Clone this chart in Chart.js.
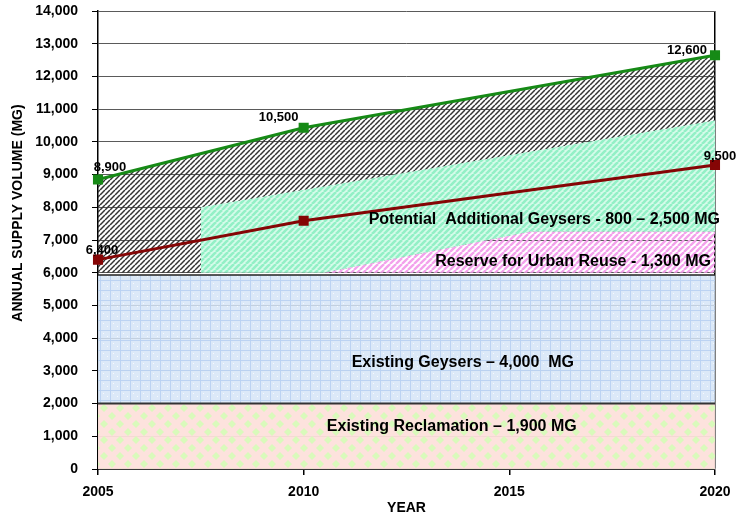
<!DOCTYPE html>
<html>
<head>
<meta charset="utf-8">
<script src="https://cdn.jsdelivr.net/npm/chart.js@4.4.0/dist/chart.umd.min.js"></script>
<style>
  html, body { margin: 0; padding: 0; background: #fff; }
  #wrap { width: 739px; height: 519px; position: relative; }
</style>
</head>
<body>
<div id="wrap"><canvas id="chart"></canvas></div>
<script>
// totals (points), labels as printed
const years = [2005, 2010, 2020];
const supplyTotal = [8850, 10430, 12650];
const supplyLabels = ['8,900', '10,500', '12,600'];
const urbanDemand = [6400, 7590, 9290];
const demandLabels = ['6,400', '', '9,500'];

// stacked areas
const baseYears = [2005, 2020];
const reclamationTop = [2000, 2000];
const geysersTop = [5930, 5930];
const reserveYears = [2005, 2010.5, 2015.5, 2020];
const reserveTop = [6000, 6000, 7250, 7250];
const reserveBase = 6000;
const potentialYears = [2007.5, 2020];
const potentialTop = [8000, 10650];

const xTicks = [2005, 2010, 2015, 2020];
const yMax = 14000;
const yStep = 1000;

const areaText = [
  'Potential  Additional Geysers - 800 \u2013 2,500 MG',
  'Reserve for Urban Reuse - 1,300 MG',
  'Existing Geysers \u2013 4,000  MG',
  'Existing Reclamation \u2013 1,900 MG'
];

const FONT = '"Liberation Sans", Arial, sans-serif';
const pts = (xs, ys) => xs.map((x, i) => ({ x, y: ys[i] }));

function tile(size, draw) {
  const c = document.createElement('canvas');
  c.width = c.height = size;
  const g = c.getContext('2d');
  draw(g, size);
  return g.createPattern(c, 'repeat');
}

// upward diagonal hatch
function stripes(size, width, color, bg) {
  return tile(size, (g, s) => {
    if (bg) { g.fillStyle = bg; g.fillRect(0, 0, s, s); }
    g.strokeStyle = color;
    g.lineWidth = width;
    for (let k = -1; k <= 1; k++) {
      g.beginPath();
      g.moveTo(k * s, s);
      g.lineTo(k * s + s, 0);
      g.stroke();
    }
  });
}

const blackHatch = stripes(5, 1.5, '#333', null);
const greenHatch = stripes(6, 2.6, '#93f0c6', '#d6fbea');
const pinkHatch = stripes(6, 2.4, '#f3a2ec', null);

const blueGrid = tile(10, (g, s) => {
  g.fillStyle = 'rgba(214,229,247,0.85)';
  g.fillRect(0, 0, s, s);
  g.fillStyle = 'rgba(185,210,242,0.9)';
  g.fillRect(0, 0, s, 1);
  g.fillRect(0, 0, 1, s);
  g.fillStyle = 'rgba(255,255,255,0.8)';
  g.fillRect(3, 3, 1, 1);
  g.fillRect(7, 6, 1, 1);
});

const diamonds = tile(16, (g, s) => {
  g.fillStyle = 'rgba(253,224,219,0.95)';
  g.fillRect(0, 0, s, s);
  g.fillStyle = '#d9fabb';
  const d = (cx, cy, r) => {
    g.beginPath();
    g.moveTo(cx, cy - r); g.lineTo(cx + r, cy); g.lineTo(cx, cy + r); g.lineTo(cx - r, cy);
    g.closePath(); g.fill();
  };
  [[0, 0], [s, 0], [0, s], [s, s], [s / 2, s / 2]].forEach(([cx, cy]) => d(cx, cy, 4));
});

const textPlugin = {
  id: 'chartText',
  afterDatasetsDraw(chart) {
    const { ctx, scales: { x, y } } = chart;
    ctx.save();
    ctx.fillStyle = '#000';
    ctx.textAlign = 'center';
    ctx.textBaseline = 'middle';

    // area captions, placed in data units
    const at = [[2015.85, 7624], [2016.55, 6338], [2013.87, 3246], [2013.6, 1286]];
    ctx.font = 'bold 16px ' + FONT;
    areaText.forEach((t, i) => ctx.fillText(t, x.getPixelForValue(at[i][0]), y.getPixelForValue(at[i][1])));

    // point value labels
    ctx.font = 'bold 13px ' + FONT;
    const supplyOff = [[12, -12], [-25, -10], [-28, -5]];
    const demandOff = [[4, -9], [0, 0], [5, -9]];
    chart.getDatasetMeta(0).data.forEach((p, i) => {
      ctx.fillText(supplyLabels[i], p.x + supplyOff[i][0], p.y + supplyOff[i][1]);
    });
    chart.getDatasetMeta(1).data.forEach((p, i) => {
      if (demandLabels[i]) ctx.fillText(demandLabels[i], p.x + demandOff[i][0], p.y + demandOff[i][1]);
    });
    ctx.restore();
  },
  afterDraw(chart) {
    const { ctx } = chart;
    ctx.save();
    ctx.translate(18, 213);
    ctx.rotate(-Math.PI / 2);
    ctx.font = 'bold 14px ' + FONT;
    ctx.fillStyle = '#000';
    ctx.textAlign = 'center';
    ctx.textBaseline = 'middle';
    ctx.fillText('ANNUAL SUPPLY VOLUME (MG)', 0, 0);
    ctx.restore();
  }
};

const area = { pointRadius: 0, borderWidth: 0, tension: 0 };

new Chart(document.getElementById('chart'), {
  type: 'line',
  data: {
    datasets: [
      { // 0 total supply line
        data: pts(years, supplyTotal), borderColor: '#168a16', backgroundColor: '#168a16',
        borderWidth: 3, pointStyle: 'rect', pointRadius: 5, fill: false, order: 0, clip: false
      },
      { // 1 demand line
        data: pts(years, urbanDemand), borderColor: '#850505', backgroundColor: '#850505',
        borderWidth: 3, pointStyle: 'rect', pointRadius: 5, fill: false, order: 1, clip: false
      },
      { // 2 potential additional geysers
        ...area, data: pts(potentialYears, potentialTop), backgroundColor: greenHatch, fill: 4, order: 5
      },
      { // 3 black hatch under the supply line
        ...area, data: pts(years, supplyTotal), backgroundColor: blackHatch, fill: 4, order: 6
      },
      { // 4 reserve for urban reuse
        ...area, data: pts(reserveYears, reserveTop), backgroundColor: pinkHatch,
        fill: { value: reserveBase }, order: 4
      },
      { // 5 existing geysers
        ...area, data: pts(baseYears, geysersTop), backgroundColor: blueGrid,
        borderColor: '#222', borderWidth: 1.5, fill: 6, order: 3
      },
      { // 6 existing reclamation
        ...area, data: pts(baseYears, reclamationTop), backgroundColor: diamonds,
        borderColor: '#333', borderWidth: 2, fill: 'origin', order: 2
      }
    ]
  },
  options: {
    responsive: true,
    maintainAspectRatio: false,
    animation: false,
    events: [],
    layout: { padding: { top: 11, right: 24, bottom: 0, left: 0 } },
    plugins: { legend: { display: false }, tooltip: { enabled: false } },
    scales: {
      x: {
        type: 'linear', min: 2005, max: 2020, z: 1,
        afterBuildTicks: s => { s.ticks = xTicks.map(v => ({ value: v })); },
        afterFit: s => { s.height = 50; s.paddingLeft = 0; s.paddingRight = 0; },
        ticks: {
          font: { family: FONT, size: 14, weight: 'bold' }, color: '#000',
          padding: 9, maxRotation: 0, callback: v => String(v)
        },
        grid: {
          color: c => (c.tick && c.tick.value === 2020 ? '#000' : 'rgba(0,0,0,0)'),
          lineWidth: 1.5, tickColor: '#000', tickLength: 6
        },
        border: { color: '#3a3a3a', width: 2 },
        title: {
          display: true, text: 'YEAR', color: '#000',
          font: { family: FONT, size: 14, weight: 'bold' }, padding: { top: 0, bottom: 2 }
        }
      },
      y: {
        min: 0, max: yMax,
        // label padding would otherwise push the plot top down
        afterFit: s => { s.width = 98; s.paddingTop = 0; s.paddingBottom = 0; },
        ticks: {
          stepSize: yStep, font: { family: FONT, size: 14, weight: 'bold' }, color: '#000',
          padding: 14, callback: v => v.toLocaleString('en-US')
        },
        grid: { color: '#5a5a5a', lineWidth: 1, tickColor: '#000', tickLength: 6 },
        border: { color: '#000', width: 1.5 }
      }
    }
  },
  plugins: [textPlugin]
});
</script>
</body>
</html>
